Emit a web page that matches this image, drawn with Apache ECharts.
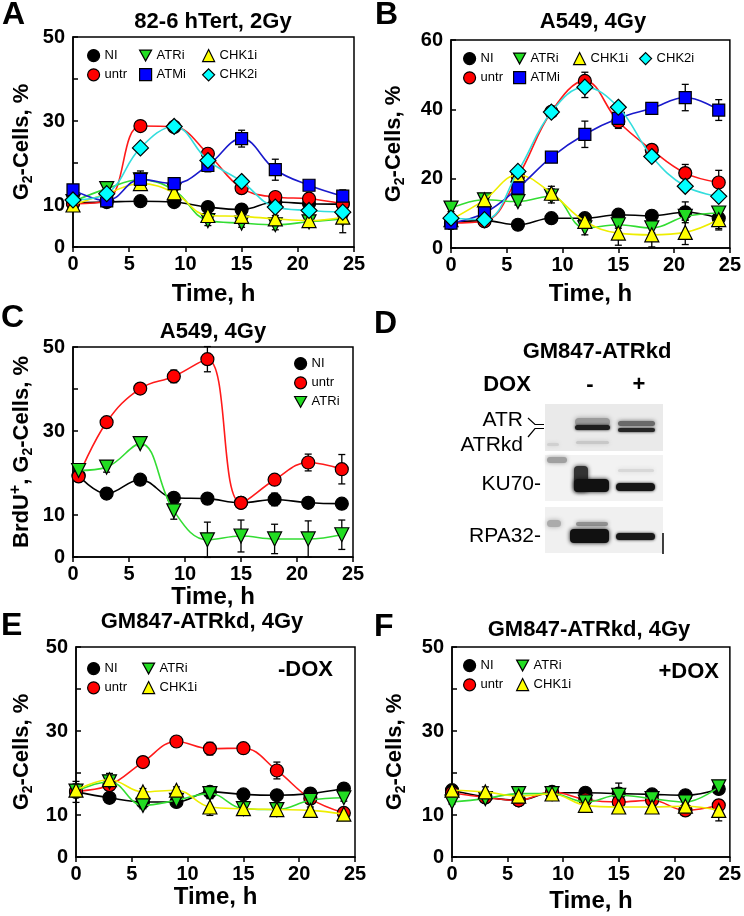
<!DOCTYPE html>
<html>
<head>
<meta charset="utf-8">
<script src="https://cdn.jsdelivr.net/npm/echarts@6/dist/echarts.min.js"></script>
<style>
html,body{margin:0;padding:0;background:#fff;}
#main{width:744px;height:916px;}
</style>
</head>
<body>
<div id="main"></div>
<script>
// ---------- DATA ----------
const xTicks = [0, 5, 10, 15, 20, 25];
const tA = [0, 3, 6, 9, 12, 15, 18, 21, 24];
const tB = [0, 3, 6, 9, 12, 15, 18, 21, 24];
const tC = [0.5, 3, 6, 9, 12, 15, 18, 21, 24];
const tE = [0, 3, 6, 9, 12, 15, 18, 21, 24];
const tF = [0, 3, 6, 9, 12, 15, 18, 21, 24];

// Panel A: 82-6 hTert, 2Gy
const A_NI      = [10.5, 10.7, 10.9, 10.7, 9.5, 8.9, 10.7, 10.3, 10.2];
const A_NI_err  = [0.5, 1.2, 0.5, 0.5, 0.8, 0.6, 0.5, 0.5, 0.5];
const A_untr    = [10.3, 11.0, 28.8, 28.6, 22.2, 14.0, 11.9, 11.5, 10.3];
const A_untr_err= [0.5, 0.5, 0.8, 0.8, 1.2, 1.0, 1.2, 1.0, 0.8];
const A_ATRi    = [10.8, 13.9, 16.0, 13.5, 6.3, 5.7, 5.3, 6.0, 6.7];
const A_ATRi_err= [0.5, 0.8, 0.8, 0.8, 1.2, 1.0, 1.2, 1.2, 3.3];
const A_CHK1i   = [10.0, 12.7, 15.1, 12.9, 7.5, 7.3, 6.7, 6.3, 7.1];
const A_CHK1i_err=[0.5, 0.5, 0.8, 0.8, 0.8, 0.8, 0.8, 0.8, 1.0];
const A_ATMi    = [13.6, 11.0, 16.1, 15.1, 19.4, 25.8, 18.4, 14.7, 12.1];
const A_ATMi_err= [0.5, 0.5, 2.0, 0.5, 1.5, 2.0, 2.5, 1.0, 1.5];
const A_CHK2i   = [11.2, 12.7, 23.6, 28.7, 20.6, 15.6, 9.5, 8.7, 8.3];
const A_CHK2i_err=[0.5, 0.5, 0.5, 0.5, 0.8, 0.5, 0.5, 0.5, 0.5];

// Panel B: A549, 4Gy
const B_NI      = [7.2, 7.9, 6.7, 8.6, 8.6, 9.6, 9.3, 10.3, 8.6];
const B_NI_err  = [0.5, 0.5, 0.5, 0.5, 0.5, 0.5, 0.5, 3.0, 3.0];
const B_untr    = [7.2, 7.7, 20.6, 39.3, 48.2, 36.5, 28.3, 21.6, 18.9];
const B_untr_err= [0.5, 0.5, 1.0, 1.0, 2.5, 2.0, 1.0, 2.5, 3.5];
const B_ATRi    = [11.5, 13.9, 13.4, 15.0, 5.8, 6.7, 5.8, 9.1, 10.1];
const B_ATRi_err= [1.0, 1.0, 1.0, 2.0, 2.0, 1.0, 1.5, 1.0, 1.5];
const B_CHK1i   = [8.2, 13.9, 21.1, 15.8, 7.7, 4.3, 3.8, 4.5, 8.2];
const B_CHK1i_err=[0.5, 1.0, 1.0, 2.0, 2.0, 3.5, 3.5, 3.5, 3.0];
const B_ATMi    = [7.2, 10.1, 17.3, 26.2, 32.8, 37.4, 40.3, 43.4, 39.8];
const B_ATMi_err= [0.5, 0.5, 1.0, 1.0, 3.8, 2.0, 1.0, 3.8, 3.0];
const B_CHK2i   = [8.6, 8.2, 22.1, 39.2, 46.4, 40.6, 26.4, 17.8, 14.9];
const B_CHK2i_err=[0.5, 0.5, 1.0, 1.0, 3.0, 1.0, 1.0, 1.0, 1.0];

// Panel C: A549, 4Gy (BrdU+)
const C_NI      = [19.4, 15.1, 18.4, 14.1, 13.9, 12.9, 13.7, 12.9, 12.7];
const C_NI_err  = [0.5, 0.5, 0.5, 0.5, 0.5, 0.5, 1.5, 0.5, 0.5];
const C_untr    = [19.2, 32.1, 40.1, 43.0, 47.1, 12.9, 18.4, 22.5, 20.9];
const C_untr_err= [0.5, 0.5, 0.5, 1.5, 3.0, 0.5, 0.5, 2.0, 3.5];
const C_ATRi    = [20.6, 21.4, 27.0, 11.0, 4.1, 5.0, 4.3, 4.3, 5.3];
const C_ATRi_err= [0.5, 1.2, 0.5, 2.0, 4.2, 3.8, 3.5, 4.3, 3.5];

// Panel E: GM847-ATRkd, 4Gy, -DOX
const E_NI      = [15.5, 14.1, 13.1, 13.1, 15.5, 14.9, 14.7, 15.1, 16.3];
const E_NI_err  = [2.5, 0.5, 0.5, 0.5, 1.0, 0.5, 0.5, 0.5, 0.8];
const E_untr    = [15.7, 17.1, 22.6, 27.5, 25.8, 25.9, 20.6, 13.9, 10.5];
const E_untr_err= [1.0, 1.0, 0.5, 0.5, 1.5, 1.0, 2.0, 0.5, 0.5];
const E_ATRi    = [15.7, 17.9, 12.3, 13.5, 15.1, 11.5, 11.3, 13.5, 14.1];
const E_ATRi_err= [1.5, 1.0, 0.8, 0.8, 1.0, 0.8, 0.8, 0.8, 0.8];
const E_CHK1i   = [15.9, 18.4, 15.5, 15.9, 11.9, 11.5, 11.3, 11.1, 10.2];
const E_CHK1i_err=[1.5, 1.5, 0.8, 0.8, 2.0, 0.8, 0.8, 0.8, 0.8];

// Panel F: GM847-ATRkd, 4Gy, +DOX
const F_NI      = [15.9, 14.3, 13.5, 15.3, 15.3, 15.1, 14.9, 14.7, 16.2];
const F_NI_err  = [0.8, 0.5, 0.5, 0.5, 1.0, 2.5, 1.0, 0.5, 0.5];
const F_untr    = [15.3, 14.2, 13.5, 15.5, 13.7, 13.1, 13.5, 11.1, 12.3];
const F_untr_err= [0.5, 0.8, 0.5, 0.5, 0.8, 1.5, 0.5, 0.5, 0.5];
const F_ATRi    = [13.1, 13.9, 15.1, 15.1, 13.1, 14.7, 13.9, 13.1, 16.7];
const F_ATRi_err= [0.5, 0.5, 0.5, 0.5, 0.5, 0.5, 0.5, 0.5, 0.5];
const F_CHK1i   = [15.9, 15.5, 14.5, 15.0, 12.3, 11.9, 11.9, 12.1, 11.1];
const F_CHK1i_err=[0.5, 1.2, 0.5, 0.5, 1.5, 0.5, 0.5, 0.5, 2.5];

// ---------- STYLE ----------
const FONT = '"Liberation Sans", Arial, Helvetica, sans-serif';
const DOWN = 'path://M0,0L10,0L5,9Z';
const STY = {
  NI:    {fill: '#000000', line: '#000000', symbol: 'circle',   size: 13},
  untr:  {fill: '#ff0000', line: '#ff1a1a', symbol: 'circle',   size: 13},
  ATRi:  {fill: '#22dd22', line: '#33dd33', symbol: DOWN,       size: 14},
  CHK1i: {fill: '#ffff00', line: '#eeee00', symbol: 'triangle', size: 14},
  ATMi:  {fill: '#0000ff', line: '#1a1acc', symbol: 'rect',     size: 12},
  CHK2i: {fill: '#00ffff', line: '#33dddd', symbol: 'diamond',  size: 16}
};

const panels = [
  {grid: {left: 73, top: 37, width: 281, height: 210}, ymax: 50, yint: 10, hide: [20, 40],
   times: tA, yName: 'g2', yGap: 38, xGap: 35,
   series: [['NI', A_NI, A_NI_err], ['untr', A_untr, A_untr_err], ['ATRi', A_ATRi, A_ATRi_err],
            ['CHK1i', A_CHK1i, A_CHK1i_err], ['ATMi', A_ATMi, A_ATMi_err], ['CHK2i', A_CHK2i, A_CHK2i_err]],
   legends: [{left: 87, top: 49, items: ['NI', 'untr']}, {left: 139, top: 49, items: ['ATRi', 'ATMi']},
             {left: 202, top: 49, items: ['CHK1i', 'CHK2i']}]},
  {grid: {left: 451, top: 40, width: 282, height: 208}, ymax: 60, yint: 20, hide: [],
   times: tB, yName: 'g2', yGap: 44, xGap: 34,
   series: [['NI', B_NI, B_NI_err], ['untr', B_untr, B_untr_err], ['ATRi', B_ATRi, B_ATRi_err],
            ['CHK1i', B_CHK1i, B_CHK1i_err], ['ATMi', B_ATMi, B_ATMi_err], ['CHK2i', B_CHK2i, B_CHK2i_err]],
   legends: [{left: 463, top: 52, items: ['NI', 'untr']}, {left: 513, top: 52, items: ['ATRi', 'ATMi']},
             {left: 573, top: 52, items: ['CHK1i']}, {left: 639, top: 52, items: ['CHK2i']}]},
  {grid: {left: 73, top: 347, width: 280, height: 210}, ymax: 50, yint: 10, hide: [20, 40],
   times: tC, yName: 'brdu', yGap: 38, xGap: 26,
   series: [['NI', C_NI, C_NI_err], ['untr', C_untr, C_untr_err], ['ATRi', C_ATRi, C_ATRi_err]],
   legends: [{left: 294, top: 357, items: ['NI', 'untr', 'ATRi']}]},
  {grid: {left: 76, top: 647, width: 279, height: 210}, ymax: 50, yint: 10, hide: [20, 40],
   times: tE, yName: 'g2', yGap: 41, xGap: 24,
   series: [['NI', E_NI, E_NI_err], ['untr', E_untr, E_untr_err], ['ATRi', E_ATRi, E_ATRi_err],
            ['CHK1i', E_CHK1i, E_CHK1i_err]],
   legends: [{left: 87, top: 662, items: ['NI', 'untr']}, {left: 142, top: 662, items: ['ATRi', 'CHK1i']}]},
  {grid: {left: 452, top: 647, width: 279, height: 210}, ymax: 50, yint: 10, hide: [20, 40],
   times: tF, yName: 'g2', yGap: 44, xGap: 32,
   series: [['NI', F_NI, F_NI_err], ['untr', F_untr, F_untr_err], ['ATRi', F_ATRi, F_ATRi_err],
            ['CHK1i', F_CHK1i, F_CHK1i_err]],
   legends: [{left: 463, top: 659, items: ['NI', 'untr']}, {left: 516, top: 659, items: ['ATRi', 'CHK1i']}]}
];

const boldTxt = (size) => ({color: '#000', fontSize: size, fontWeight: 'bold', fontFamily: FONT});

const nameRich = {
  a: {fontSize: 22, fontWeight: 'bold', fontFamily: FONT, color: '#000', lineHeight: 27},
  s: {fontSize: 14, fontWeight: 'bold', fontFamily: FONT, color: '#000', lineHeight: 27, verticalAlign: 'bottom'},
  p: {fontSize: 16, fontWeight: 'bold', fontFamily: FONT, color: '#000', lineHeight: 27, verticalAlign: 'top'}
};
const yNames = {
  g2: '{a|G}{s|2}{a|-Cells, %}',
  brdu: '{a|BrdU}{p|+}{a|, G}{s|2}{a|-Cells, %}'
};

const grids = [], xAxes = [], yAxes = [], series = [], legends = [];

panels.forEach((p, i) => {
  grids.push(Object.assign({show: true, borderColor: '#000', borderWidth: 1.5, backgroundColor: 'transparent'}, p.grid));
  xAxes.push({
    gridIndex: i, type: 'value', min: xTicks[0], max: xTicks[xTicks.length - 1], interval: 5,
    axisLine: {show: true, onZero: false, lineStyle: {color: '#000', width: 1.5}},
    axisTick: {show: true, inside: false, length: 5, lineStyle: {color: '#000', width: 1.5}},
    axisLabel: Object.assign({margin: 7}, boldTxt(20)),
    splitLine: {show: false},
    name: 'Time, h', nameLocation: 'middle', nameGap: p.xGap, nameTextStyle: boldTxt(24)
  });
  yAxes.push({
    gridIndex: i, type: 'value', min: 0, max: p.ymax, interval: p.yint,
    axisLine: {show: true, onZero: false, lineStyle: {color: '#000', width: 1.5}},
    axisTick: {show: true, inside: true, length: 5, lineStyle: {color: '#000', width: 1.5}},
    axisLabel: Object.assign({margin: 8, formatter: v => (p.hide.indexOf(v) >= 0 ? '' : String(v))}, boldTxt(20)),
    splitLine: {show: false},
    name: yNames[p.yName], nameLocation: 'middle', nameGap: p.yGap, nameRotate: 90,
    nameTextStyle: {rich: nameRich}
  });
  p.series.forEach(([nm, vals, errs], k) => {
    series.push({
      type: 'custom', xAxisIndex: i, yAxisIndex: i, silent: true, z: 1,
      data: p.times.map((t, j) => [t, vals[j] - errs[j], vals[j] + errs[j]]),
      encode: {x: 0, y: [1, 2]},
      renderItem: (params, api) => {
        const lo = api.coord([api.value(0), api.value(1)]);
        const hi = api.coord([api.value(0), api.value(2)]);
        const w = 3.5, st = {stroke: '#000', lineWidth: 1.3};
        return {type: 'group', children: [
          {type: 'line', shape: {x1: lo[0], y1: lo[1], x2: hi[0], y2: hi[1]}, style: st},
          {type: 'line', shape: {x1: hi[0] - w, y1: hi[1], x2: hi[0] + w, y2: hi[1]}, style: st},
          {type: 'line', shape: {x1: lo[0] - w, y1: lo[1], x2: lo[0] + w, y2: lo[1]}, style: st}
        ]};
      }
    });
  });
  p.series.forEach(([nm, vals], k) => {
    const s = STY[nm];
    series.push({
      type: 'line', name: nm, xAxisIndex: i, yAxisIndex: i, z: 2 + k,
      data: p.times.map((t, j) => [t, vals[j]]),
      smooth: 0.4, symbol: s.symbol, symbolSize: s.size, showAllSymbol: true,
      itemStyle: {color: s.fill, borderColor: '#000', borderWidth: 1.2},
      lineStyle: {color: s.line, width: 1.6},
      emphasis: {disabled: true}
    });
  });
  p.legends.forEach(l => {
    legends.push({
      orient: 'vertical', left: l.left, top: l.top, itemWidth: 12, itemHeight: 12, itemGap: 6,
      padding: 0, selectedMode: false,
      textStyle: {color: '#000', fontSize: 13, fontFamily: FONT},
      data: l.items.map(n => ({name: n, icon: STY[n].symbol,
        itemStyle: {color: STY[n].fill, borderColor: '#000', borderWidth: 1.2}}))
    });
  });
});

// ---------- ANNOTATIONS & BLOT ----------
const txt = (x, y, text, size, weight, align) => ({
  type: 'text', x: x, y: y, silent: true,
  style: {text: text, fill: '#000', font: (weight || 'bold') + ' ' + size + 'px ' + FONT,
          align: align || 'center', verticalAlign: 'middle'}
});
const band = (x, y, w, h, fill, blur) => ({
  type: 'rect', silent: true, shape: {x: x, y: y, width: w, height: h, r: Math.min(h / 2, 4)},
  style: {fill: fill, shadowBlur: blur || 3, shadowColor: fill}
});

const graphics = [
  txt(2, 15, 'A', 32, 'bold', 'left'),
  txt(375, 15, 'B', 32, 'bold', 'left'),
  txt(1, 318, 'C', 32, 'bold', 'left'),
  txt(374, 324, 'D', 32, 'bold', 'left'),
  txt(1, 626, 'E', 32, 'bold', 'left'),
  txt(374, 627, 'F', 32, 'bold', 'left'),
  txt(213, 22, '82-6 hTert, 2Gy', 22),
  txt(593, 22, 'A549, 4Gy', 22),
  txt(213, 332, 'A549, 4Gy', 22),
  txt(202, 622, 'GM847-ATRkd, 4Gy', 22),
  txt(589, 630, 'GM847-ATRkd, 4Gy', 22),
  txt(333, 670, '-DOX', 22, 'bold', 'right'),
  txt(719, 672, '+DOX', 22, 'bold', 'right'),
  // panel D
  txt(597, 352, 'GM847-ATRkd', 22),
  txt(507, 385, 'DOX', 22),
  txt(590, 385, '-', 22),
  txt(639, 385, '+', 22),
  txt(523, 420, 'ATR', 21, 'normal', 'right'),
  txt(523, 445, 'ATRkd', 21, 'normal', 'right'),
  txt(541, 484, 'KU70-', 21, 'normal', 'right'),
  txt(541, 536, 'RPA32-', 21, 'normal', 'right'),
  {type: 'polyline', silent: true, shape: {points: [[528, 418], [535, 424.5], [544, 424.5]]},
   style: {stroke: '#000', lineWidth: 1.2, fill: null}},
  {type: 'polyline', silent: true, shape: {points: [[528, 437], [535, 428.5], [544, 428.5]]},
   style: {stroke: '#000', lineWidth: 1.2, fill: null}},
  // blot backgrounds
  {type: 'rect', silent: true, shape: {x: 545, y: 404, width: 118, height: 47}, style: {fill: '#eaeaea'}},
  {type: 'rect', silent: true, shape: {x: 545, y: 455, width: 118, height: 46}, style: {fill: '#f2f2f2'}},
  {type: 'rect', silent: true, shape: {x: 545, y: 507, width: 118, height: 46}, style: {fill: '#f0f0f0'}},
  // ATR panel
  band(575, 418, 35, 8, '#9a9a9a', 5),
  band(575, 425, 35, 5, '#1e1e1e', 3),
  band(576, 441, 33, 3, '#c8c8c8', 4),
  band(547, 443, 12, 3, '#d0d0d0', 4),
  band(618, 421, 37, 5, '#6a6a6a', 4),
  band(618, 428, 37, 4, '#262626', 3),
  // KU70 panel
  band(547, 457, 20, 6, '#a0a0a0', 4),
  band(574, 466, 14, 26, '#333333', 4),
  band(574, 479, 35, 13, '#111111', 4),
  band(618, 469, 36, 3, '#d8d8d8', 4),
  band(616, 483, 39, 8, '#161616', 3),
  // RPA32 panel
  band(547, 520, 14, 7, '#ababab', 5),
  band(576, 522, 32, 4, '#909090', 4),
  band(570, 529, 39, 14, '#111111', 4),
  band(616, 533, 39, 7, '#181818', 3),
  {type: 'line', silent: true, shape: {x1: 663, y1: 533, x2: 663, y2: 554}, style: {stroke: '#000', lineWidth: 1.5}}
];

const chart = echarts.init(document.getElementById('main'), null, {renderer: 'canvas'});
chart.setOption({
  animation: false,
  backgroundColor: '#ffffff',
  grid: grids, xAxis: xAxes, yAxis: yAxes, series: series, legend: legends,
  graphic: graphics
});
</script>
</body>
</html>
